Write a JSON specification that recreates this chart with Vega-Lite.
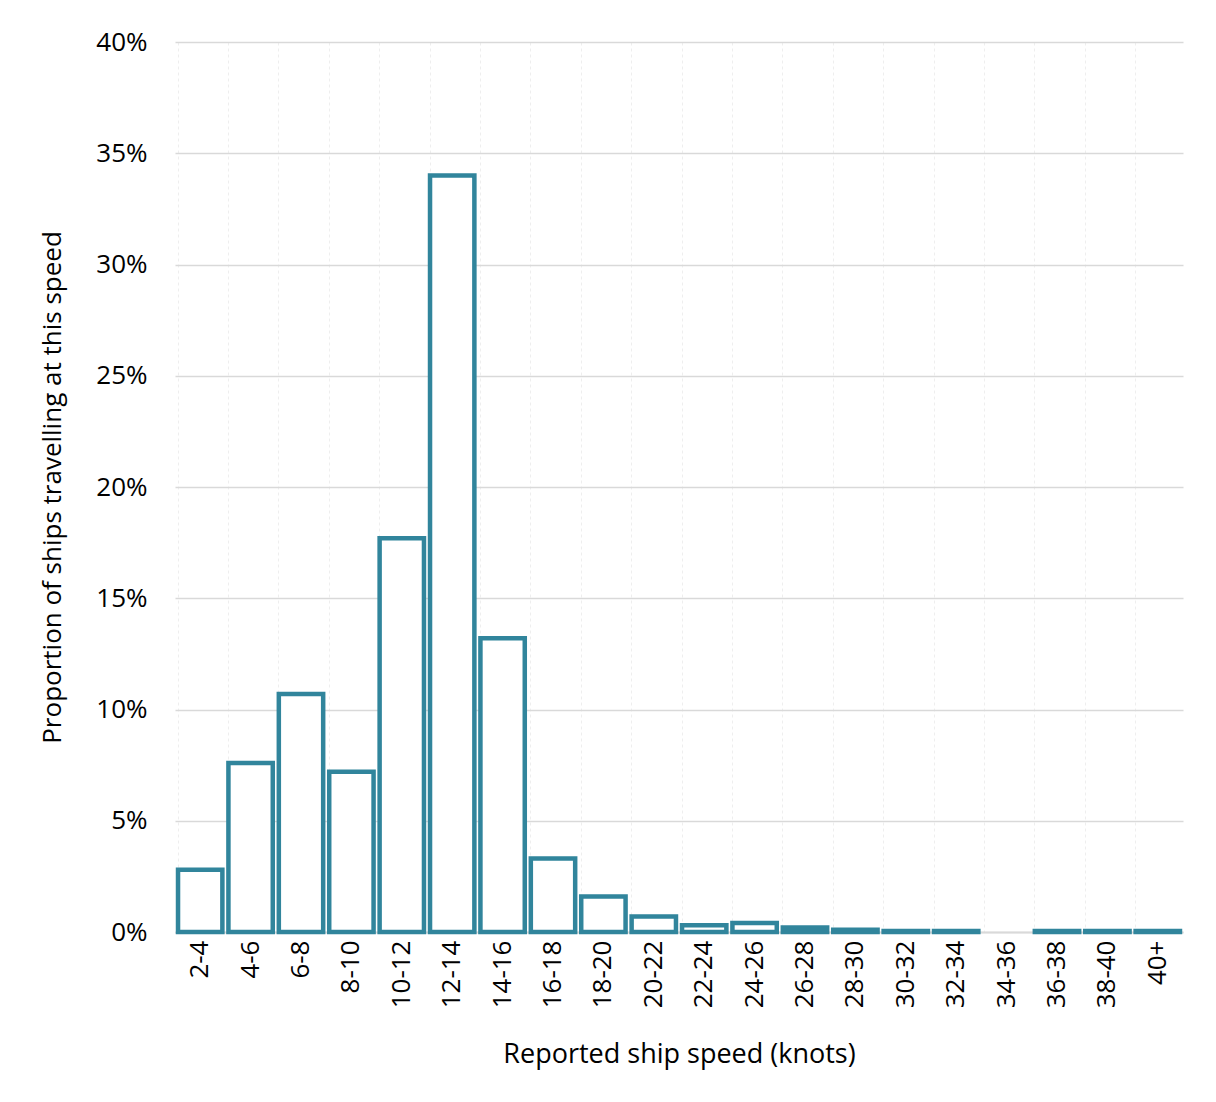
{
  "$schema": "https://vega.github.io/schema/vega-lite/v6.json",
  "autosize": "none",
  "width": 1008,
  "height": 890,
  "padding": {"left": 175, "top": 42, "right": 33, "bottom": 170},
  "background": "white",
  "config": {"view": {"stroke": null}, "font": "Open Sans"},
  "data": {
    "values": [
      {"speed": "2-4", "p": 0.028},
      {"speed": "4-6", "p": 0.076},
      {"speed": "6-8", "p": 0.107},
      {"speed": "8-10", "p": 0.072},
      {"speed": "10-12", "p": 0.177},
      {"speed": "12-14", "p": 0.340},
      {"speed": "14-16", "p": 0.132},
      {"speed": "16-18", "p": 0.033},
      {"speed": "18-20", "p": 0.016},
      {"speed": "20-22", "p": 0.007},
      {"speed": "22-24", "p": 0.003},
      {"speed": "24-26", "p": 0.004},
      {"speed": "26-28", "p": 0.002},
      {"speed": "28-30", "p": 0.001},
      {"speed": "30-32", "p": 0.0005},
      {"speed": "32-34", "p": 0.0005},
      {"speed": "34-36", "p": null},
      {"speed": "36-38", "p": 0.0005},
      {"speed": "38-40", "p": 0.0005},
      {"speed": "40+", "p": 0.0005}
    ]
  },
  "mark": {"type": "bar", "fill": "white", "stroke": "#31859C", "strokeWidth": 4.5},
  "encoding": {
    "x": {
      "field": "speed", "type": "nominal", "sort": null,
      "scale": {
        "domain": ["2-4", "4-6", "6-8", "8-10", "10-12", "12-14", "14-16", "16-18", "18-20", "20-22", "22-24", "24-26", "26-28", "28-30", "30-32", "32-34", "34-36", "36-38", "38-40", "40+"],
        "paddingInner": 0.12, "paddingOuter": 0.06
      },
      "title": "Reported ship speed (knots)",
      "axis": {
        "labelAngle": -90, "labelFontSize": 26, "labelColor": "#000", "labelPadding": 8,
        "titleFontSize": 27, "titleFontWeight": "normal", "titleColor": "#000", "titlePadding": 34,
        "ticks": false, "domainColor": "#d9d9d9", "domainWidth": 2,
        "grid": true, "gridColor": "#eeeeee", "gridDash": [3, 3], "bandPosition": 0
      }
    },
    "y": {
      "field": "p", "type": "quantitative",
      "scale": {"domain": [0, 0.4]},
      "title": "Proportion of ships travelling at this speed",
      "axis": {
        "format": ".0%", "values": [0, 0.05, 0.1, 0.15, 0.2, 0.25, 0.3, 0.35, 0.4],
        "labelOverlap": false, "labelFontSize": 26, "labelColor": "#000", "labelPadding": 28,
        "titleFontSize": 26, "titleFontWeight": "normal", "titleColor": "#000", "titlePadding": 30,
        "ticks": false, "domain": false, "gridColor": "#d9d9d9", "gridWidth": 1.5
      }
    }
  }
}
